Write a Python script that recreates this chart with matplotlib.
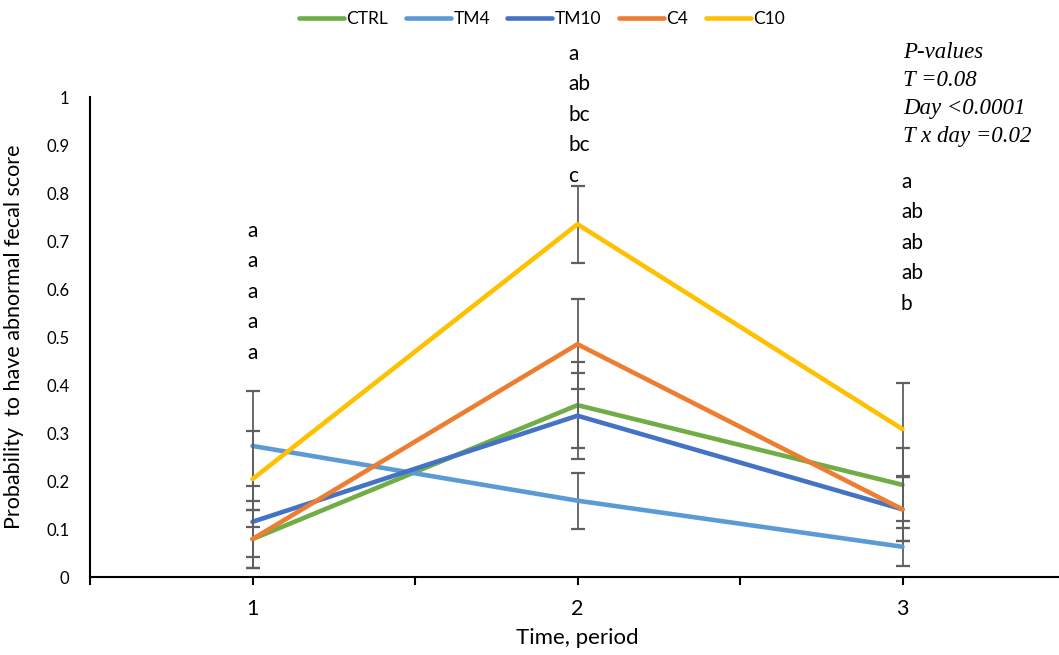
import matplotlib
matplotlib.use('Agg')
from matplotlib import pyplot as plt

plt.rcParams['font.family'] = ['Lato', 'DejaVu Sans']

# periods and series (probability of abnormal fecal score, +/- SE)
periods = [1, 2, 3]
names = ['CTRL', 'TM4', 'TM10', 'C4', 'C10']
colors = ['#70AD47', '#5B9BD5', '#4472C4', '#ED7D31', '#FFC000']

ctrl = [0.079, 0.358, 0.192]
tm4 = [0.273, 0.159, 0.063]
tm10 = [0.115, 0.336, 0.141]
c4 = [0.079, 0.485, 0.141]
c10 = [0.204, 0.735, 0.308]

ctrl_se = [0.060, 0.090, 0.076]
tm4_se = [0.114, 0.058, 0.040]
tm10_se = [0.074, 0.090, 0.067]
c4_se = [0.060, 0.094, 0.067]
c10_se = [0.100, 0.080, 0.097]

# significance letters per period
letters_p1 = ['a', 'a', 'a', 'a', 'a']
letters_p2 = ['a', 'ab', 'bc', 'bc', 'c']
letters_p3 = ['a', 'ab', 'ab', 'ab', 'b']

pvalues = ['P-values', 'T =0.08', 'Day <0.0001', 'T x day =0.02']

W, H = 1059, 655
fig = plt.figure(figsize=(W/100, H/100), dpi=100)
# axes runs from x=0.5 to 3.5, right end is cut off by the figure edge
ax = fig.add_axes([90/W, (H-577)/H, 975/W, 480/H])

series = [ctrl, tm4, tm10, c4, c10]
errs = [ctrl_se, tm4_se, tm10_se, c4_se, c10_se]
for i, (vals, se) in enumerate(zip(series, errs)):
    ax.errorbar(periods, vals, yerr=se, fmt='none', ecolor='#5f5f5f',
                elinewidth=1.3, capsize=5, capthick=1.6, zorder=2+2*i)
    ax.plot(periods, vals, color=colors[i], lw=3.3, label=names[i],
            solid_capstyle='round', zorder=3+2*i)

ax.set_xlim(0.5, 3.5)
ax.set_ylim(0, 1)
ax.set_xticks([0.5, 1, 1.5, 2, 2.5, 3, 3.5])
ax.set_xticklabels(['', '1', '', '2', '', '3', ''], fontsize=15.5)
ax.set_yticks([i/10 for i in range(11)])
ax.set_yticklabels(['0', '0.1', '0.2', '0.3', '0.4', '0.5', '0.6', '0.7',
                    '0.8', '0.9', '1'], fontsize=12)
ax.tick_params(axis='x', direction='out', length=6, width=1.5, pad=10)
ax.tick_params(axis='y', length=0, pad=15)
for s in ['top', 'right']:
    ax.spines[s].set_visible(False)
ax.spines['bottom'].set_linewidth(1.5)
ax.spines['left'].set_linewidth(1.5)

ax.set_xlabel('Time, period', fontsize=16, labelpad=6)
ax.set_ylabel('Probability  to have abnormal fecal score', fontsize=15.5,
              labelpad=16)

# letters above each period
step = 0.0635
for x, top, lets, ha in [(1.0, 0.721, letters_p1, 'center'),
                         (1.971, 1.090, letters_p2, 'left'),
                         (2.995, 0.823, letters_p3, 'left')]:
    for j, t in enumerate(lets):
        ax.text(x, top - j*step, t, ha=ha, va='center', fontsize=15,
                clip_on=False)

for j, t in enumerate(pvalues):
    fig.text(903/W, 1 - (52 + j*28.3)/H, t, ha='left', va='center',
             fontsize=16.5, style='italic', family='Liberation Serif')

fig.legend(loc='center', bbox_to_anchor=(542/W, 1 - 19/H), ncol=5,
           frameon=False, fontsize=12.5, handlelength=2.6, handletextpad=0.15,
           columnspacing=1.0)

fig.savefig('out.png', dpi=100)
